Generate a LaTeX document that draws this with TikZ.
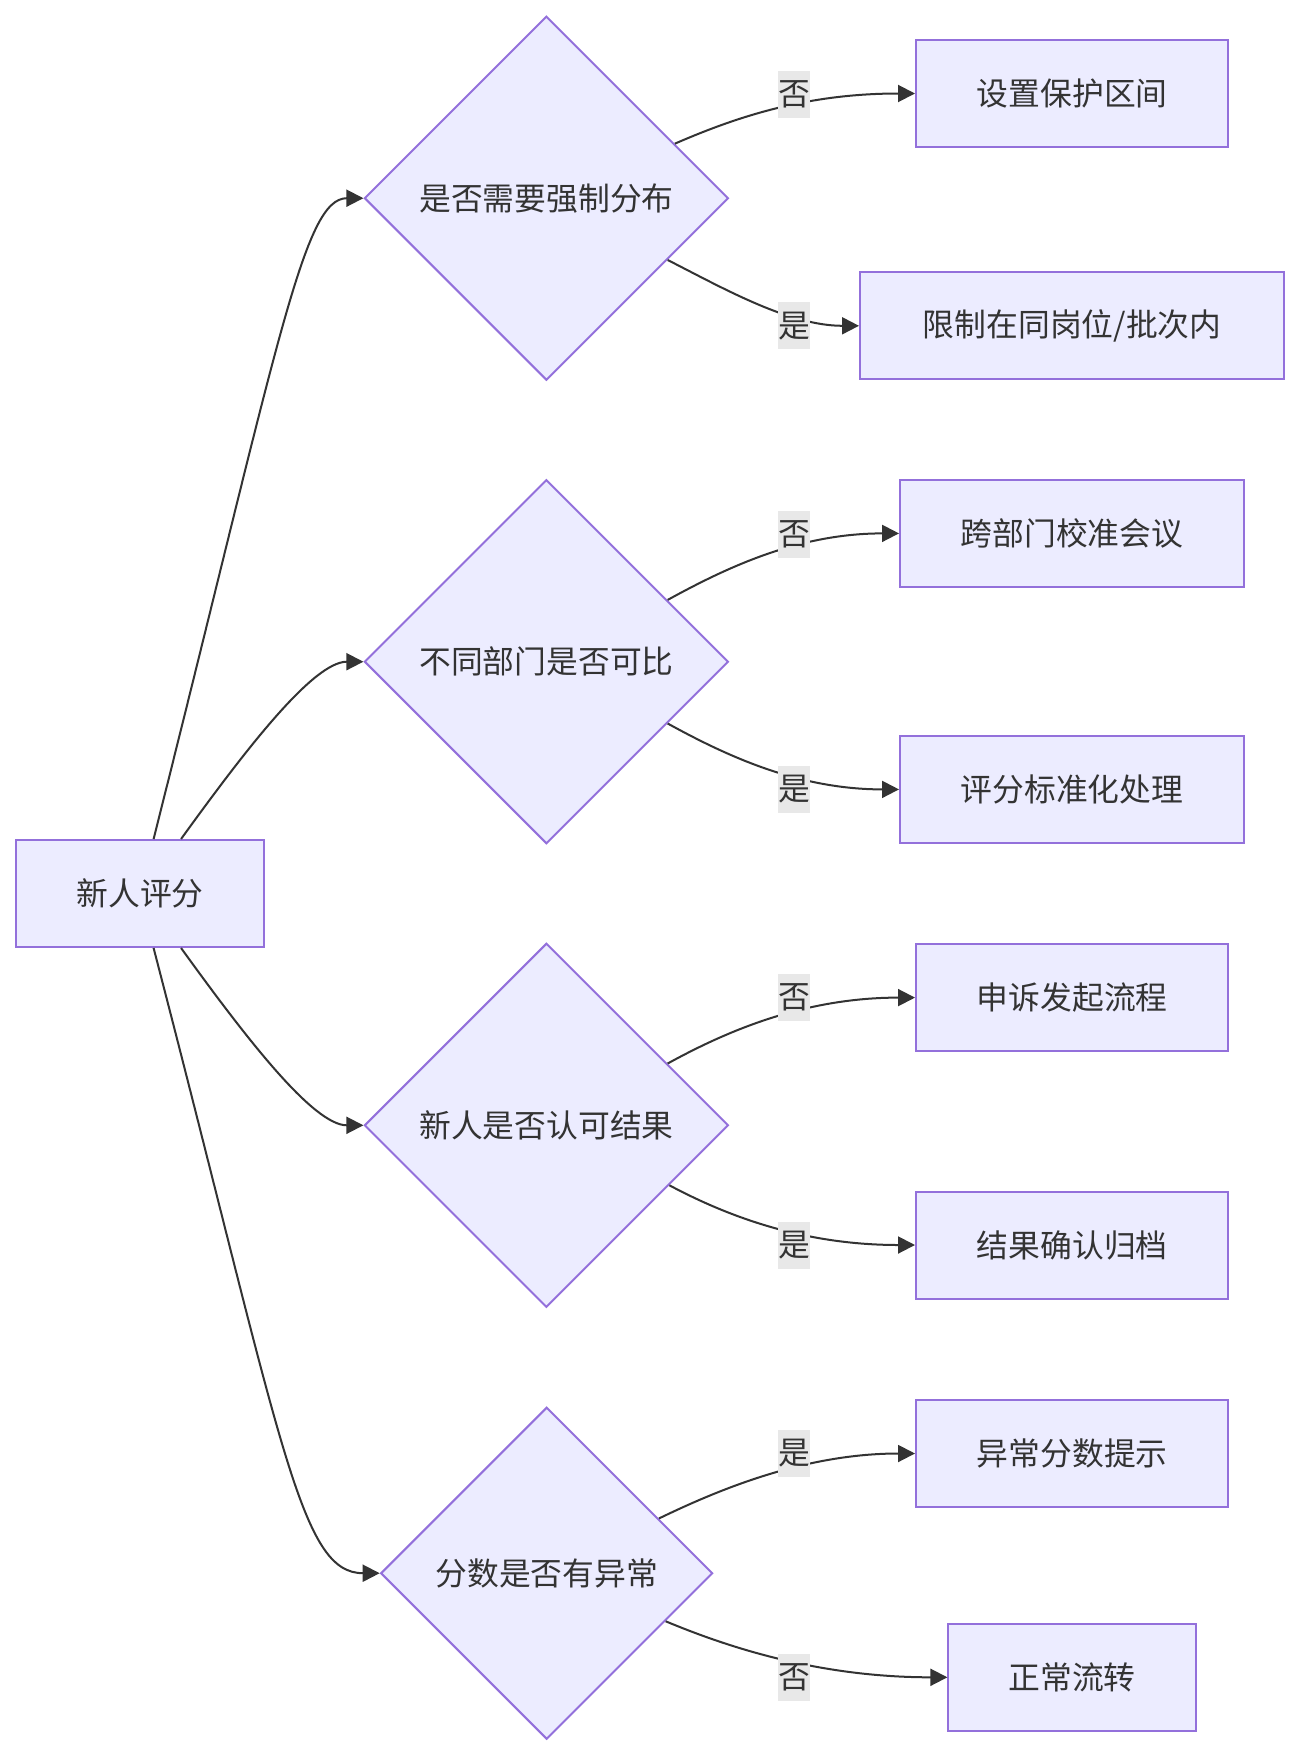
\documentclass[tikz,border=0pt]{standalone}
\usepackage{fontspec}
\setmainfont{Noto Sans CJK SC}
\usetikzlibrary{shapes.geometric,arrows.meta}
\definecolor{nfill}{HTML}{ECECFF}
\definecolor{nline}{HTML}{9370DB}
\definecolor{tcol}{HTML}{333333}
\definecolor{lbg}{HTML}{E8E8E8}
\begin{document}
\begin{tikzpicture}[x=0.5pt,y=-0.5pt,
  txt/.style={font=\fontsize{15.9pt}{19pt}\selectfont, text=tcol},
  box/.style={txt, draw=nline, fill=nfill, line width=1pt, minimum height=53.5pt, inner sep=0pt},
  dec/.style={txt, diamond, aspect=1, draw=nline, fill=nfill, line width=1pt, inner sep=0pt},
  lbl/.style={txt, fill=lbg, inner sep=0pt, minimum width=15.85pt, minimum height=23.5pt},
  arr/.style={draw=tcol, line width=1pt, -{Triangle[length=8.5pt,width=8.5pt]}}
]
\fill[white] (0,0) rectangle (1300,1756);
\useasboundingbox (0,0) rectangle (1300,1756);

% nodes
\node[box, minimum width=124.25pt] (s) at (140,893.5) {新人评分};
\node[dec, minimum width=182pt, minimum height=182pt] (d1) at (546.4,198.2) {是否需要强制分布};
\node[dec, minimum width=182pt, minimum height=182pt] (d2) at (546.4,661.7) {不同部门是否可比};
\node[dec, minimum width=182pt, minimum height=182pt] (d3) at (546.4,1125.3) {新人是否认可结果};
\node[dec, minimum width=166pt, minimum height=166pt] (d4) at (546.7,1573.2) {分数是否有异常};

\node[box, minimum width=156.2pt] (b1) at (1072.2,93.5) {设置保护区间};
\node[box, minimum width=212.2pt] (b2) at (1072.2,325.8) {限制在同岗位/批次内};
\node[box, minimum width=172pt] (b3) at (1072,533.4) {跨部门校准会议};
\node[box, minimum width=172pt] (b4) at (1072,789.4) {评分标准化处理};
\node[box, minimum width=156.2pt] (b5) at (1072.2,997.6) {申诉发起流程};
\node[box, minimum width=156.2pt] (b6) at (1072.2,1245) {结果确认归档};
\node[box, minimum width=156.2pt] (b7) at (1072.2,1453.5) {异常分数提示};
\node[box, minimum width=123.7pt] (b8) at (1072.1,1677.3) {正常流转};

% left edges
\draw[arr] (s.76) .. controls +(126,-500) and +(-60,0) .. (d1.west);
\draw[arr] (s.53) .. controls +(65,-90) and +(-50,0) .. (d2.west);
\draw[arr] (s.-53) .. controls +(65,90) and +(-50,0) .. (d3.west);
\draw[arr] (s.-76) .. controls +(130,500) and +(-80,0) .. (d4.west);

% right edges
\draw[arr] (d1.23) .. controls +(60,-26) and +(-110,0) .. (b1.west);
\draw[arr] (d1.-27) .. controls +(55,28) and +(-70,0) .. (b2.west);
\draw[arr] (d2.27) .. controls +(60,-33) and +(-100,0) .. (b3.west);
\draw[arr] (d2.-27) .. controls +(60,33) and +(-100,0) .. (b4.west);
\draw[arr] (d3.27) .. controls +(60,-33) and +(-110,0) .. (b5.west);
\draw[arr] (d3.-26) .. controls +(60,32) and +(-110,0) .. (b6.west);
\draw[arr] (d4.26) .. controls +(60,-29) and +(-110,0) .. (b7.west);
\draw[arr] (d4.-22) .. controls +(60,25) and +(-130,0) .. (b8.west);

% edge labels
\node[lbl] (l1) at (794,94) {否};
\node[lbl] (l2) at (794,325.8) {是};
\node[lbl] (l3) at (794,534) {否};
\node[lbl] (l4) at (794,789.4) {是};
\node[lbl] (l5) at (794,997.7) {否};
\node[lbl] (l6) at (794,1245) {是};
\node[lbl] (l7) at (794,1453.4) {是};
\node[lbl] (l8) at (794,1677.3) {否};
\end{tikzpicture}
\end{document}
